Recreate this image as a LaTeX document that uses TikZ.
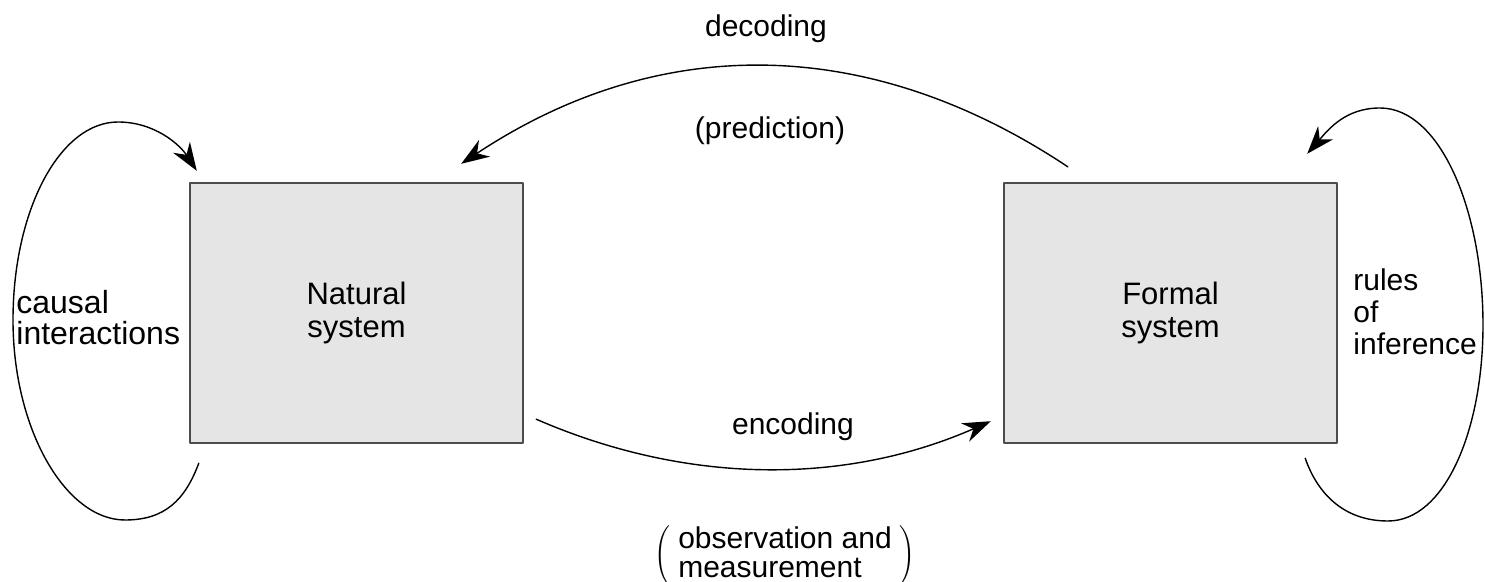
\documentclass[tikz,border=0pt]{standalone}
\usepackage{fontspec}
\setmainfont{Liberation Sans}
\usetikzlibrary{arrows.meta}
\begin{document}
\begin{tikzpicture}[line cap=round, line join=round,x=.5pt,y=-.5pt,
    font=\fontsize{15}{16}\selectfont,
    sysbox/.style={draw=black!70,line width=1.2pt,fill=gray!20,minimum width=166.5pt,minimum height=130pt,align=center,font=\fontsize{15.5}{16.5}\selectfont},
    lbl/.style={inner sep=0pt,align=left},
    arr/.style={line width=.7pt,-{Stealth[length=14pt,width=10pt,inset=4.5pt]}}]
    \useasboundingbox (0,0) rectangle (1485,582);
    % the two systems
    \foreach \n/\x/\t in {nat/356.5/Natural,form/1170.5/Formal}
        \node[sysbox] (\n) at (\x,313) {\t\\system};
    % labels
    \node[lbl,anchor=west,font=\fontsize{16}{15.5}\selectfont] (caus) at (16,318) {causal\\interactions};
    \node[lbl,anchor=west] (rules) at (1353,312) {rules\\of\\inference};
    \node[lbl] (dec) at (766,29) {decoding};
    \node[lbl] (pred) at (770,131) {(prediction)};
    \node[lbl] (enc) at (793,427) {encoding};
    \node[lbl,font=\fontsize{15}{14.5}\selectfont] (obs) at (785,556) {$\Bigg(\;\begin{tabular}{@{}l@{}}observation and\\measurement\end{tabular}\;\Bigg)$};
    % loops and maps
    \draw[arr]([shift={(10,19)}]nat.south west)..controls(185,500) and (165,520)..(125,520)..controls(66,520) and (13,430)..(13,320)
        ..controls(13,210) and (60,122)..(118,122)..controls(155,122) and (180,145)..([shift={(8,-11)}]nat.north west);
    \draw[arr]([shift={(-33,14)}]form.south east)..controls(1318,495) and (1345,521)..(1388,521)..controls(1445,521) and (1483,430)..(1483,325)
        ..controls(1483,210) and (1440,108)..(1380,108)..controls(1345,108) and (1328,130)..([shift={(-31,-28)}]form.north east);
    \draw[arr]([shift={(65,-15)}]form.north west)..controls(870,35) and (660,32)..([shift={(-63,-18)}]nat.north east);
    \draw[arr]([shift={(12,-25)}]nat.south east)..controls(685,484) and (843,486)..([shift={(-12,-23)}]form.south west);
\end{tikzpicture}
\end{document}
